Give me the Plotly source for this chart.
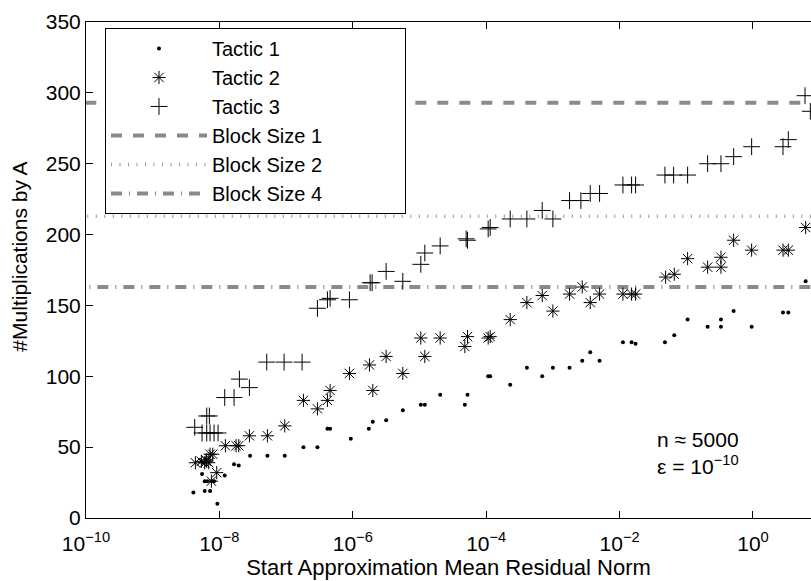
import plotly.graph_objects as go

# Start approximation residual norms (log10) and multiplication counts
t1_logx = [-8.39, -8.26, -8.22, -8.18, -8.22, -8.14, -8.12, -8.08, -8.03, -7.92, -7.78, -7.71,
           -7.54, -7.28, -7.02, -6.74, -6.53, -6.38, -6.34, -6.03, -5.76, -5.70, -5.50, -5.25,
           -4.98, -4.92, -4.69, -4.32, -4.28, -3.97, -3.94, -3.64, -3.39, -3.16, -3.00, -2.75,
           -2.56, -2.44, -2.30, -1.95, -1.82, -1.76, -1.32, -1.18, -0.98, -0.68, -0.48, -0.48,
           -0.29, -0.02, 0.45, 0.53, 0.79]
t1_mults = [18, 31, 26, 26, 19, 19, 26, 26, 10, 30, 38, 37,
            44, 44, 44, 50, 50, 63, 63, 56, 63, 68, 69, 76,
            80, 80, 87, 80, 87, 100, 100, 94, 106, 100, 106, 106,
            111, 117, 111, 124, 124, 123, 124, 129, 140, 135, 140, 135,
            146, 135, 145, 145, 167]

t2_logx = [-8.36, -8.27, -8.22, -8.19, -8.16, -8.14, -8.10, -8.20, -8.12, -8.04, -7.91, -7.75,
           -7.71, -7.55, -7.28, -7.02, -6.74, -6.53, -6.38, -6.34, -6.05, -5.75, -5.70, -5.50,
           -5.25, -4.98, -4.92, -4.69, -4.32, -4.28, -3.97, -3.94, -3.64, -3.39, -3.16, -3.00,
           -2.75, -2.56, -2.44, -2.30, -1.95, -1.82, -1.76, -1.31, -1.18, -0.98, -0.68, -0.48,
           -0.48, -0.29, -0.02, 0.45, 0.53, 0.79]
t2_mults = [39, 40, 39, 40, 39, 45, 45, 41, 26, 32, 51, 51,
            51, 58, 58, 65, 83, 77, 83, 90, 102, 108, 90, 114,
            102, 127, 114, 127, 121, 128, 127, 128, 140, 152, 157, 146,
            158, 163, 152, 158, 158, 158, 158, 170, 172, 183, 177, 177,
            184, 196, 189, 189, 189, 205]

t3_logx = [-8.37, -8.19, -8.15, -8.26, -8.19, -8.14, -8.08, -8.02, -7.92, -7.78, -7.70, -7.55,
           -7.29, -7.03, -6.76, -6.53, -6.38, -6.34, -6.05, -5.74, -5.71, -5.50, -5.25, -4.98,
           -4.92, -4.69, -4.30, -4.28, -3.97, -3.94, -3.64, -3.39, -3.16, -3.00, -2.75, -2.58,
           -2.44, -2.30, -1.95, -1.82, -1.76, -1.32, -1.19, -0.98, -0.68, -0.48, -0.29, -0.02,
           0.45, 0.53, 0.78, 0.86]
t3_mults = [64, 72, 72, 60, 60, 60, 60, 60, 85, 85, 98, 92,
            110, 110, 110, 148, 154, 155, 154, 166, 166, 174, 167, 179,
            187, 192, 197, 196, 204, 205, 211, 211, 217, 211, 224, 224,
            229, 229, 235, 235, 235, 242, 242, 242, 250, 250, 255, 262,
            262, 267, 298, 287]

# Fixed-block reference counts
block_names = ["Block Size 1", "Block Size 2", "Block Size 4"]
block_mults = [293, 213, 163]
block_dashes = ["11px,11px", "1px,7.5px", "11px,7px,1px,7px"]
block_widths = [4, 3.5, 4]
block_colors = ["#8a8a8a", "#9a9a9a", "#8a8a8a"]

y_ticks = [0, 50, 100, 150, 200, 250, 300, 350]
x_tick_exps = [-10, -8, -6, -4, -2, 0]

FONT = "Liberation Sans, Arial, Helvetica, sans-serif"
PAD = "\u00a0" * 14  # widens the legend box to the right

fig = go.Figure()

for i, (name, val) in enumerate(zip(block_names, block_mults)):
    fig.add_trace(go.Scatter(
        x=[1e-11, 1e2], y=[val, val], mode="lines",
        name=name + (PAD if i == 0 else ""),
        line=dict(color=block_colors[i], width=block_widths[i], dash=block_dashes[i]),
        legendrank=4 + i, hoverinfo="skip"))

fig.add_trace(go.Scatter(
    x=[10 ** v for v in t1_logx], y=t1_mults, mode="markers", name="Tactic 1",
    marker=dict(symbol="circle", size=4, color="black"), legendrank=1))
fig.add_trace(go.Scatter(
    x=[10 ** v for v in t2_logx], y=t2_mults, mode="markers", name="Tactic 2",
    marker=dict(symbol="asterisk-open", size=11, color="black",
                line=dict(color="black", width=1)), legendrank=2))
fig.add_trace(go.Scatter(
    x=[10 ** v for v in t3_logx], y=t3_mults, mode="markers", name="Tactic 3",
    marker=dict(symbol="cross-thin-open", size=12, color="black",
                line=dict(color="black", width=1)), legendrank=3))

fig.update_layout(
    width=811, height=581,
    margin=dict(l=86, r=0, t=22, b=63),
    paper_bgcolor="white", plot_bgcolor="white",
    font=dict(family=FONT, size=21, color="black"),
    showlegend=True,
    legend=dict(
        x=0.0262, y=0.988, xanchor="left", yanchor="top",
        bgcolor="white", bordercolor="black", borderwidth=1,
        font=dict(size=20), itemwidth=96, tracegroupgap=0),
    xaxis=dict(
        type="log", range=[-10, 0.87],
        tickvals=[10 ** e for e in x_tick_exps],
        ticktext=["10<sup>\u2212%d</sup>" % -e if e < 0 else "10<sup>0</sup>" for e in x_tick_exps],
        ticks="inside", ticklen=7, tickcolor="black", ticklabelstandoff=7,
        showline=True, linecolor="black", linewidth=1, mirror="ticks",
        showgrid=False, zeroline=False,
        title=dict(text="Start Approximation Mean Residual Norm", standoff=4,
                   font=dict(size=22)),
        tickfont=dict(size=21)),
    yaxis=dict(
        range=[0, 350], tickvals=y_ticks,
        ticks="inside", ticklen=7, tickcolor="black",
        showline=True, linecolor="black", linewidth=1,
        showgrid=False, zeroline=False, tickfont=dict(size=21)),
    annotations=[
        dict(text="#Multiplications by A", textangle=-90, xref="paper", yref="paper",
             x=-0.091, y=0.527, xanchor="center", yanchor="middle", showarrow=False,
             font=dict(size=21)),
        dict(text="n \u2248 5000<br>\u03b5 = 10<sup>\u221210</sup>", xref="paper", yref="paper",
             x=0.785, y=0.132, xanchor="left", yanchor="middle", align="left",
             showarrow=False, font=dict(size=21)),
    ],
)

fig.write_html("out.html")
